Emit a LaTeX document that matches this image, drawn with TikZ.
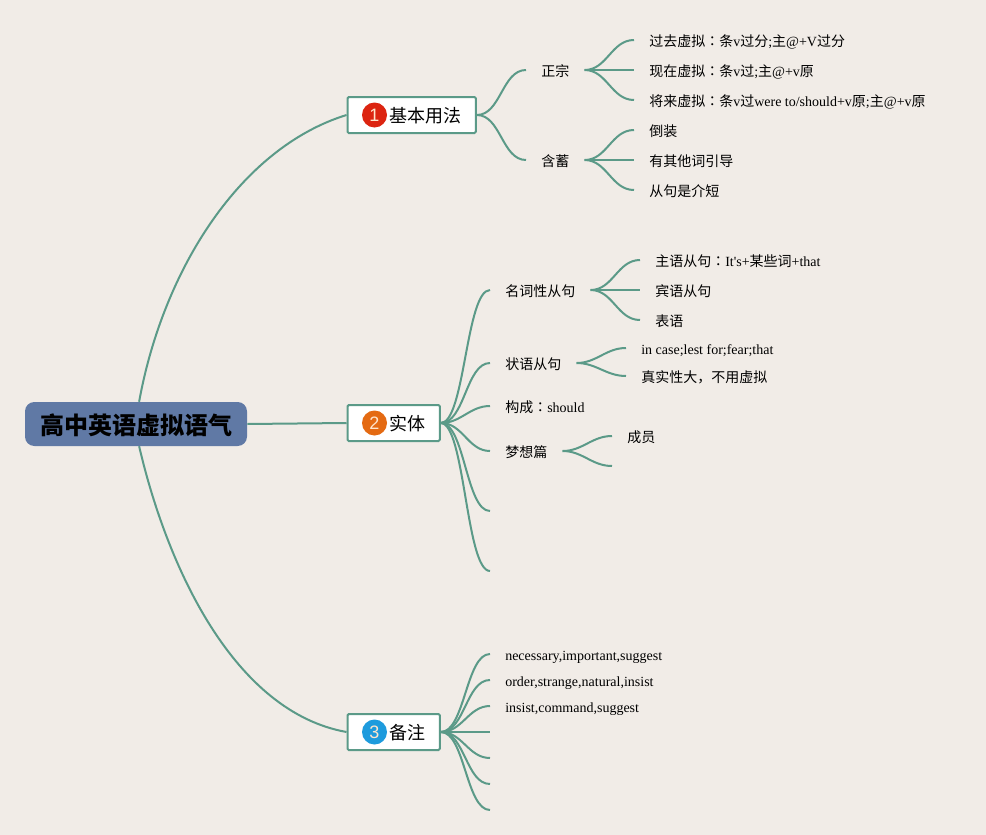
\documentclass[tikz,border=0pt]{standalone}
\usepackage{fontspec}
\setmainfont{Liberation Serif}
\newfontfamily\cjkfont{Noto Sans CJK SC}
\newfontfamily\cjkcolon{Noto Sans CJK JP}
\newfontfamily\badgefont{Liberation Sans}
\newcommand{\zh}[1]{{\cjkfont #1}}
\newcommand{\zhcolon}{{\cjkcolon ：}}
\definecolor{paper}{HTML}{F1ECE7}
\definecolor{edgegreen}{HTML}{5B9A88}
\definecolor{rootblue}{HTML}{6079A5}
\definecolor{badgered}{HTML}{DC2410}
\definecolor{badgeorange}{HTML}{E46A12}
\definecolor{badgeblue}{HTML}{1E9BDD}

\begin{document}
\begin{tikzpicture}[
    x=0.75pt, y=-0.75pt,
    root/.style={draw=none, fill=rootblue, rounded corners=7pt, minimum width=166.5pt, minimum height=33pt, inner sep=0pt, text height=17pt, text depth=2pt, font=\fontsize{18}{20}\selectfont\cjkfont\bfseries, execute at begin node={\hspace{1.5pt}}},
    topic/.style={anchor=west, draw=edgegreen, line width=1.5pt, fill=white, rounded corners=1pt, minimum height=27pt, inner xsep=11pt, inner ysep=0pt, text height=12.5pt, text depth=1pt, font=\fontsize{13.5}{16}\selectfont\cjkfont, execute at begin node={\hspace{20.25pt}}},
    badge/.style={circle, inner sep=0pt, minimum size=18.75pt, text=white!80!orange, font=\fontsize{13.5}{16}\selectfont\badgefont},
    leaf/.style={anchor=west, inner xsep=11.25pt, inner ysep=0pt, text height=11pt, text depth=1.5pt, font=\fontsize{10.5}{12}\selectfont},
    trunk/.style={edgegreen, line width=1.5pt},
    branch/.style={edgegreen, line width=1.5pt, out=0, in=180, max distance=18pt}
]

% Fondo
\fill[paper] (0,0) rectangle (986,835);
\useasboundingbox (0,0) rectangle (986,835);

% Nodos principales
\node[root] (root) at (136,424) {高中英语虚拟语气};
\node[topic] (basic) at (346.5,115) {基本用法};
\node[topic] (entity) at (346.5,423) {实体};
\node[topic] (remark) at (346.5,732) {备注};
\node[badge, fill=badgered] (badge1) at (374.5,115) {1};
\node[badge, fill=badgeorange] (badge2) at (374.5,423) {2};
\node[badge, fill=badgeblue] (badge3) at (374.5,732) {3};

% Primer tema
\node[leaf] (proper) at (526,70) {\zh{正宗}};
\node[leaf] (implicit) at (526,160) {\zh{含蓄}};
\node[leaf] (past) at (634,40) {\zh{过去虚拟}\zhcolon\zh{条}v\zh{过分};\zh{主}@+V\zh{过分}};
\node[leaf] (present) at (634,70) {\zh{现在虚拟}\zhcolon\zh{条}v\zh{过};\zh{主}@+v\zh{原}};
\node[leaf] (future) at (634,100) {\zh{将来虚拟}\zhcolon\zh{条}v\zh{过}were to/should+v\zh{原};\zh{主}@+v\zh{原}};
\node[leaf] (invert) at (634,130) {\zh{倒装}};
\node[leaf] (otherword) at (634,160) {\zh{有其他词引导}};
\node[leaf] (shortcl) at (634,190) {\zh{从句是介短}};

% Segundo tema
\node[leaf] (nounc) at (490,290) {\zh{名词性从句}};
\node[leaf] (advc) at (490,363) {\zh{状语从句}};
\node[leaf] (form) at (490,406) {\zh{构成}\zhcolon should};
\node[leaf] (dream) at (490,451) {\zh{梦想篇}};
\coordinate (blank1) at (490,511);
\coordinate (blank2) at (490,571);
\node[leaf] (subj) at (640,260) {\zh{主语从句}\zhcolon It\textquotesingle s+\zh{某些词}+that};
\node[leaf] (obj) at (640,290) {\zh{宾语从句}};
\node[leaf] (pred) at (640,320) {\zh{表语}};
\node[leaf] (incase) at (626,348) {in case;lest for;fear;that};
\node[leaf] (truth) at (626,376) {\zh{真实性大，不用虚拟}};
\node[leaf] (member) at (612,436) {\zh{成员}};
\coordinate (blank3) at (612,466);

% Tercer tema
\node[leaf] (words1) at (490,654) {necessary,important,suggest};
\node[leaf] (words2) at (490,680) {order,strange,natural,insist};
\node[leaf] (words3) at (490,706) {insist,command,suggest};
\coordinate (blank4) at (490,732);
\coordinate (blank5) at (490,758);
\coordinate (blank6) at (490,784);
\coordinate (blank7) at (490,810);

% Ramas de la raiz
\draw[trunk] (root.82) .. controls (163,270) and (240,148) .. (basic.west);
\draw[trunk] (root.east) -- (entity.west);
\draw[trunk] (root.278) .. controls (168,570) and (235,712) .. (remark.west);

% Ramas del primer tema
\draw[branch] (basic.east) to (proper.west);
\draw[branch] (basic.east) to (implicit.west);
\draw[branch] (proper.east) to (past.west);
\draw[branch] (proper.east) to (present.west);
\draw[branch] (proper.east) to (future.west);
\draw[branch] (implicit.east) to (invert.west);
\draw[branch] (implicit.east) to (otherword.west);
\draw[branch] (implicit.east) to (shortcl.west);

% Ramas del segundo tema
\draw[branch] (entity.east) to (nounc.west);
\draw[branch] (entity.east) to (advc.west);
\draw[branch] (entity.east) to (form.west);
\draw[branch] (entity.east) to (dream.west);
\draw[branch] (entity.east) to (blank1);
\draw[branch] (entity.east) to (blank2);
\draw[branch] (nounc.east) to (subj.west);
\draw[branch] (nounc.east) to (obj.west);
\draw[branch] (nounc.east) to (pred.west);
\draw[branch] (advc.east) to (incase.west);
\draw[branch] (advc.east) to (truth.west);
\draw[branch] (dream.east) to (member.west);
\draw[branch] (dream.east) to (blank3);

% Ramas del tercer tema
\draw[branch] (remark.east) to (words1.west);
\draw[branch] (remark.east) to (words2.west);
\draw[branch] (remark.east) to (words3.west);
\draw[branch] (remark.east) to (blank4);
\draw[branch] (remark.east) to (blank5);
\draw[branch] (remark.east) to (blank6);
\draw[branch] (remark.east) to (blank7);

\end{tikzpicture}
\end{document}
